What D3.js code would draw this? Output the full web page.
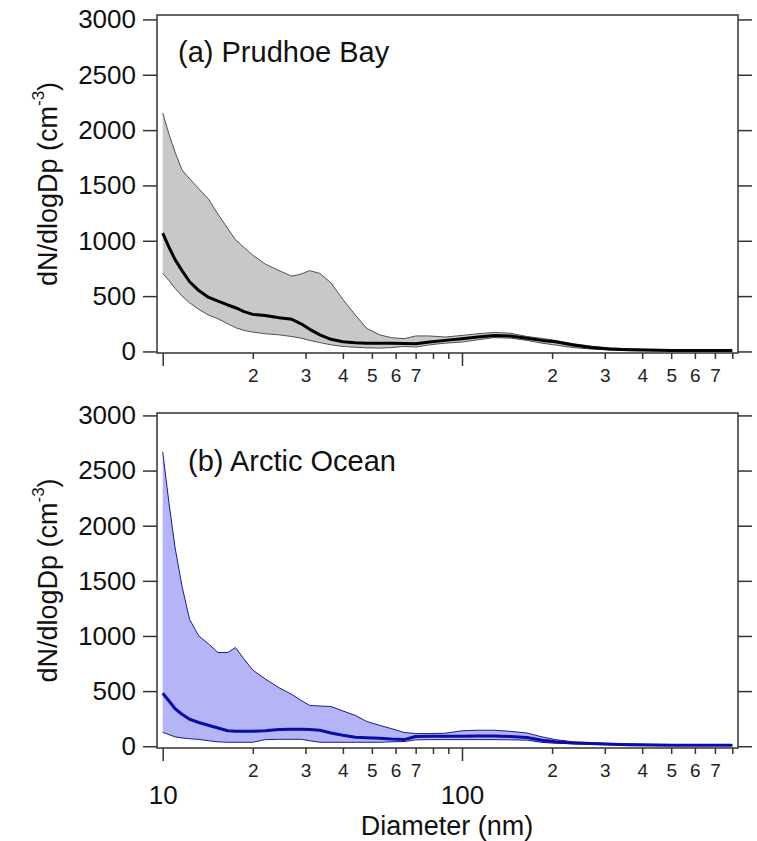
<!DOCTYPE html>
<html>
<head>
<meta charset="utf-8">
<script src="https://cdn.jsdelivr.net/npm/d3@7"></script>
<style>
  body { margin: 0; background: #fff; }
  svg { display: block; font-family: Arial, "Liberation Sans", sans-serif; }
</style>
</head>
<body>
<div id="chart"></div>
<script>
// Diameter grid (nm) shared by all series
const diameters = [10, 10.5, 11, 11.6, 12.3, 13.2, 14.2, 15.3, 16.5, 17.5, 18.7, 20, 22, 24.5, 27, 29, 31, 33.5, 36.5, 40,
  44, 48, 53, 58, 64, 70, 78, 88, 100, 113, 128, 145, 165, 185, 205, 235, 270, 310, 360, 420, 500, 600, 700, 800];

// (a) Prudhoe Bay
const prudhoeUpper = [2155, 1960, 1800, 1640, 1560, 1470, 1380, 1240, 1110, 1010, 940, 870, 790, 730, 680, 700, 730, 705, 620, 470,
  330, 210, 150, 125, 115, 140, 140, 130, 145, 160, 172, 165, 135, 118, 100, 70, 48, 32, 24, 17, 13, 12, 12, 12];
const prudhoeMean = [1070, 940, 830, 730, 630, 550, 490, 455, 420, 395, 360, 335, 325, 305, 290, 250, 200, 150, 110, 88,
  78, 75, 75, 75, 72, 70, 85, 100, 115, 130, 145, 140, 120, 100, 88, 58, 35, 22, 16, 12, 9, 8, 8, 8];
const prudhoeLower = [705, 640, 570, 500, 440, 380, 330, 295, 250, 215, 190, 175, 160, 150, 135, 120, 100, 80, 60, 45,
  38, 33, 30, 35, 45, 40, 60, 75, 85, 105, 125, 120, 100, 75, 58, 35, 22, 14, 8, 5, 4, 4, 4, 4];

// (b) Arctic Ocean
const arcticUpper = [2670, 2200, 1800, 1450, 1150, 1000, 930, 850, 850, 895, 790, 690, 610, 530, 470, 415, 370, 365, 360, 320,
  280, 225, 190, 160, 125, 115, 115, 118, 140, 145, 145, 135, 120, 85, 60, 40, 32, 27, 22, 18, 16, 15, 15, 15];
const arcticMean = [480, 410, 340, 290, 245, 215, 190, 165, 140, 136, 136, 136, 140, 152, 154, 154, 152, 145, 120, 100,
  82, 78, 73, 65, 60, 88, 90, 90, 90, 92, 92, 88, 80, 55, 40, 30, 24, 18, 14, 12, 10, 10, 10, 10];
const arcticLower = [126, 105, 85, 75, 68, 62, 50, 40, 36, 36, 36, 36, 60, 63, 63, 63, 50, 36, 36, 36,
  36, 36, 36, 40, 42, 58, 60, 60, 60, 60, 60, 58, 55, 35, 27, 22, 18, 16, 12, 10, 8, 8, 8, 8];

const yTicks = [0, 500, 1000, 1500, 2000, 2500, 3000];
const majorTicks = [10, 100];
const minorTicks = [20, 30, 40, 50, 60, 70, 80, 90, 200, 300, 400, 500, 600, 700, 800];

const W = 757, H = 841;
const left = 157, right = 738;

const svg = d3.select('#chart').append('svg')
  .attr('width', W)
  .attr('height', H);

const x = d3.scaleLog().domain([9.57, 836]).range([left, right]);

function drawPanel(p) {
  const y = d3.scaleLinear().domain(p.yDomain).range([p.bottom, p.top]);
  const g = svg.append('g');

  const band = p.upper.map((v, i) => ({ d: diameters[i], hi: v, lo: p.lower[i] }));

  // shaded band between lower and upper
  g.append('path')
    .datum(band)
    .attr('fill', p.fill)
    .attr('d', d3.area().x(d => x(d.d)).y0(d => y(d.lo)).y1(d => y(d.hi)));

  const line = d3.line().x((v, i) => x(diameters[i])).y(v => y(v));

  g.append('path').datum(p.upper)
    .attr('fill', 'none').attr('stroke', p.edge).attr('stroke-width', 1)
    .attr('d', line);
  g.append('path').datum(p.lower)
    .attr('fill', 'none').attr('stroke', p.edge).attr('stroke-width', 1)
    .attr('d', line);
  g.append('path').datum(p.mean)
    .attr('fill', 'none').attr('stroke', p.meanColor).attr('stroke-width', 3)
    .attr('stroke-linejoin', 'round')
    .attr('d', line);

  // frame
  g.append('rect')
    .attr('x', left).attr('y', p.top)
    .attr('width', right - left).attr('height', p.bottom - p.top)
    .attr('fill', 'none').attr('stroke', '#333').attr('stroke-width', 1.5);

  // left axis
  const ly = g.append('g')
    .attr('transform', `translate(${left},0)`)
    .call(d3.axisLeft(y).tickValues(yTicks).tickSize(14).tickPadding(7).tickFormat(d3.format('d')));
  ly.select('.domain').remove();
  ly.selectAll('line').attr('stroke', '#333').attr('stroke-width', 1.5);
  ly.selectAll('text').attr('font-size', 26).attr('fill', '#111').attr('font-family', 'Arial, "Liberation Sans", sans-serif');

  // right axis (ticks only)
  const ry = g.append('g')
    .attr('transform', `translate(${right},0)`)
    .call(d3.axisRight(y).tickValues(yTicks).tickSize(14).tickFormat(''));
  ry.select('.domain').remove();
  ry.selectAll('line').attr('stroke', '#333').attr('stroke-width', 1.5);

  // bottom axis, minor ticks
  const bx = g.append('g')
    .attr('transform', `translate(0,${p.bottom})`)
    .call(d3.axisBottom(x).tickValues(minorTicks).tickSize(6).tickPadding(10)
      .tickFormat(d => {
        const lead = d / Math.pow(10, Math.floor(Math.log10(d)));
        return lead <= 7 ? String(Math.round(lead)) : '';
      }));
  bx.select('.domain').remove();
  bx.selectAll('line').attr('stroke', '#333').attr('stroke-width', 1.5);
  bx.selectAll('text').attr('font-size', 19).attr('fill', '#222').attr('font-family', 'Arial, "Liberation Sans", sans-serif');

  // bottom axis, decade ticks
  const mx = g.append('g')
    .attr('transform', `translate(0,${p.bottom})`)
    .call(d3.axisBottom(x).tickValues(majorTicks).tickSize(13).tickPadding(25)
      .tickFormat(p.decadeLabels ? d3.format('d') : ''));
  mx.select('.domain').remove();
  mx.selectAll('line').attr('stroke', '#333').attr('stroke-width', 1.5);
  mx.selectAll('text').attr('font-size', 26).attr('fill', '#111').attr('font-family', 'Arial, "Liberation Sans", sans-serif');

  // panel title
  g.append('text')
    .attr('x', p.titleX).attr('y', p.titleY)
    .attr('font-size', 29).attr('fill', '#111')
    .text(p.title);

  // y label
  const lab = g.append('text')
    .attr('transform', `translate(57,${(p.top + p.bottom) / 2}) rotate(-90)`)
    .attr('text-anchor', 'middle')
    .attr('font-size', 27).attr('fill', '#111');
  lab.append('tspan').text('dN/dlogDp (cm');
  lab.append('tspan').attr('font-size', 17).attr('dy', -13).text('-3');
  lab.append('tspan').attr('dy', 13).text(')');
}

drawPanel({
  top: 15, bottom: 353, yDomain: [-14, 3040],
  upper: prudhoeUpper, mean: prudhoeMean, lower: prudhoeLower,
  fill: '#c8c8c8', edge: '#505050', meanColor: '#000',
  title: '(a) Prudhoe Bay', titleX: 178, titleY: 62,
  decadeLabels: false
});

drawPanel({
  top: 413, bottom: 748, yDomain: [-16, 3022],
  upper: arcticUpper, mean: arcticMean, lower: arcticLower,
  fill: '#b4b4f6', edge: '#1a1a8c', meanColor: '#0c0ca6',
  title: '(b) Arctic Ocean', titleX: 188, titleY: 471,
  decadeLabels: true
});

// x axis title
svg.append('text')
  .attr('x', 447).attr('y', 835)
  .attr('text-anchor', 'middle')
  .attr('font-size', 27).attr('fill', '#111')
  .text('Diameter (nm)');
</script>
</body>
</html>
